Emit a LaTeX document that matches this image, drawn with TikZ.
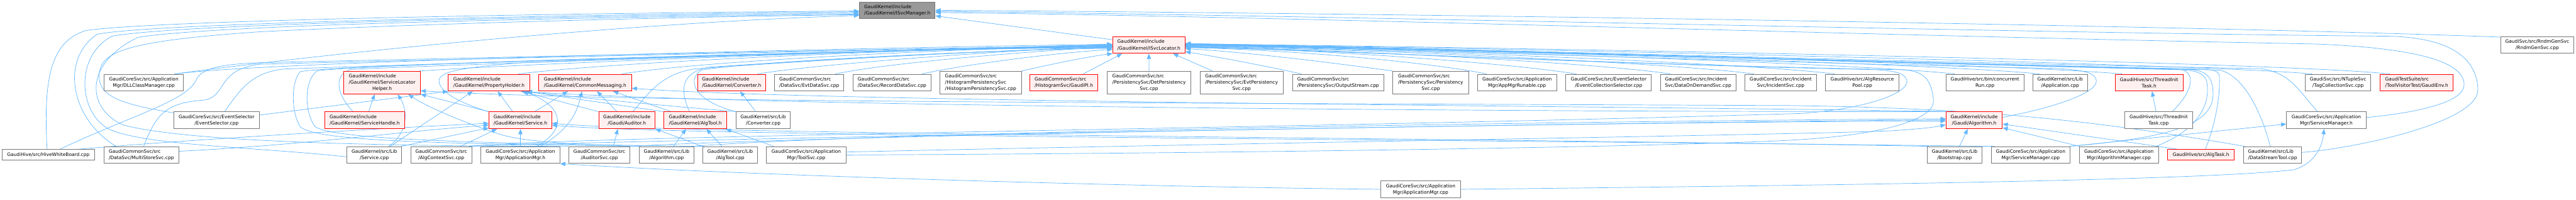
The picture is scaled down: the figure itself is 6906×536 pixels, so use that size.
\documentclass[tikz,border=0pt]{standalone}
\usepackage{fontspec}
\setmainfont{DejaVu Sans}
\usetikzlibrary{arrows.meta}
\definecolor{edgec}{HTML}{63B8FF}
\definecolor{redfill}{HTML}{FFF0F0}
\definecolor{boxline}{HTML}{777777}
\definecolor{rootfill}{HTML}{999999}
\newcommand\fsz{\fontsize{12.6}{17}\selectfont}
\newcommand\tlc[3]{\begin{tabular}{@{}l@{}}#1\\#2\\\multicolumn{1}{@{}c@{}}{#3}\end{tabular}}
\newcommand\bx[8]{\node[#2,align=#3,minimum width={(#6-(#5))*1pt},minimum height={(#8-(#7))*1pt}] (#1) at ({(#5+#6)/2},{(#7+#8)/2}) {#4};}
\pgfdeclarelayer{bg}
\pgfsetlayers{bg,main}
\tikzset{
  box/.style={draw=boxline, fill=white, line width=1.5pt, inner sep=0pt, font=\fsz, text=black},
  rbox/.style={box, draw=red, fill=redfill},
  gbox/.style={box, fill=rootfill},
  edge/.style={draw=edgec, line width=1.2pt, -{Triangle[length=14pt,width=11pt]}},
}
\begin{document}
\begin{tikzpicture}[x=1pt,y=-1pt]
\useasboundingbox (0,0) rectangle (6906,536);
% row 0 / 1
\bx{mgr}{gbox}{left}{GaudiKernel/include\\/GaudiKernel/ISvcManager.h}{2304}{2507}{5}{50}
\bx{loc}{rbox}{left}{GaudiKernel/include\\/GaudiKernel/ISvcLocator.h}{2983}{3177}{98}{143}
\bx{rndm}{box}{center}{GaudiSvc/src/RndmGenSvc\\/RndmGenSvc.cpp}{6704}{6900}{98}{143}
% row 2
\bx{dll}{box}{center}{GaudiCoreSvc/src/Application\\Mgr/DLLClassManager.cpp}{279}{492}{199}{244}
\bx{slh}{rbox}{left}{\tlc{GaudiKernel/include}{/GaudiKernel/ServiceLocator}{Helper.h}}{922}{1127}{191}{252}
\bx{ph}{rbox}{left}{GaudiKernel/include\\/GaudiKernel/PropertyHolder.h}{1202}{1420}{199}{244}
\bx{cm}{rbox}{left}{GaudiKernel/include\\/GaudiKernel/CommonMessaging.h}{1444}{1693}{199}{244}
\bx{convh}{rbox}{left}{GaudiKernel/include\\/GaudiKernel/Converter.h}{1870}{2053}{199}{244}
\bx{evtdata}{box}{left}{GaudiCommonSvc/src\\/DataSvc/EvtDataSvc.cpp}{2077}{2262}{199}{244}
\bx{recdata}{box}{left}{GaudiCommonSvc/src\\/DataSvc/RecordDataSvc.cpp}{2287}{2496}{199}{244}
\bx{histpers}{box}{left}{GaudiCommonSvc/src\\/HistogramPersistencySvc\\/HistogramPersistencySvc.cpp}{2520}{2738}{191}{252}
\bx{gaudipi}{rbox}{left}{GaudiCommonSvc/src\\/HistogramSvc/GaudiPI.h}{2761}{2943}{199}{244}
\bx{detpers}{box}{left}{\tlc{GaudiCommonSvc/src}{/PersistencySvc/DetPersistency}{Svc.cpp}}{2968}{3193}{191}{252}
\bx{evtpers}{box}{left}{\tlc{GaudiCommonSvc/src}{/PersistencySvc/EvtPersistency}{Svc.cpp}}{3217}{3440}{191}{252}
\bx{outstream}{box}{left}{GaudiCommonSvc/src\\/PersistencySvc/OutputStream.cpp}{3465}{3710}{199}{244}
\bx{pers}{box}{left}{\tlc{GaudiCommonSvc/src}{/PersistencySvc/Persistency}{Svc.cpp}}{3734}{3937}{191}{252}
\bx{apprun}{box}{center}{GaudiCoreSvc/src/Application\\Mgr/AppMgrRunable.cpp}{3961}{4173}{199}{244}
\bx{evcol}{box}{center}{GaudiCoreSvc/src/EventSelector\\/EventCollectionSelector.cpp}{4198}{4427}{199}{244}
\bx{dod}{box}{left}{GaudiCoreSvc/src/Incident\\Svc/DataOnDemandSvc.cpp}{4451}{4654}{199}{244}
\bx{incid}{box}{center}{GaudiCoreSvc/src/Incident\\Svc/IncidentSvc.cpp}{4678}{4870}{199}{244}
\bx{algres}{box}{center}{GaudiHive/src/AlgResource\\Pool.cpp}{4894}{5091}{199}{244}
\bx{concrun}{box}{center}{GaudiHive/src/bin/concurrent\\Run.cpp}{5217}{5426}{199}{244}
\bx{appl}{box}{center}{GaudiKernel/src/Lib\\/Application.cpp}{5450}{5596}{199}{244}
\bx{thrh}{rbox}{center}{GaudiHive/src/ThreadInit\\Task.h}{5670}{5853}{199}{244}
\bx{tagcol}{box}{center}{GaudiSvc/src/NTupleSvc\\/TagCollectionSvc.cpp}{6180}{6356}{199}{244}
\bx{genv}{rbox}{left}{GaudiTestSuite/src\\/ToolVisitorTest/GaudiEnv.h}{6381}{6577}{199}{244}
% row 3
\bx{evsel}{box}{center}{GaudiCoreSvc/src/EventSelector\\/EventSelector.cpp}{466}{695}{300}{345}
\bx{shdl}{rbox}{left}{GaudiKernel/include\\/GaudiKernel/ServiceHandle.h}{870}{1085}{300}{345}
\bx{svch}{rbox}{left}{GaudiKernel/include\\/GaudiKernel/Service.h}{1311}{1479}{300}{345}
\bx{audh}{rbox}{center}{GaudiKernel/include\\/Gaudi/Auditor.h}{1605}{1756}{300}{345}
\bx{algtoolh}{rbox}{left}{GaudiKernel/include\\/GaudiKernel/AlgTool.h}{1780}{1948}{300}{345}
\bx{convcpp}{box}{center}{GaudiKernel/src/Lib\\/Converter.cpp}{1973}{2119}{300}{345}
\bx{algh}{rbox}{center}{GaudiKernel/include\\/Gaudi/Algorithm.h}{5217}{5368}{300}{345}
\bx{thrcpp}{box}{center}{GaudiHive/src/ThreadInit\\Task.cpp}{5696}{5878}{300}{345}
\bx{smh}{box}{center}{GaudiCoreSvc/src/Application\\Mgr/ServiceManager.h}{6130}{6343}{300}{345}
% row 4
\bx{hive}{box}{center}{GaudiHive/src/HiveWhiteBoard.cpp}{5}{254}{401}{429}
\bx{mss}{box}{left}{GaudiCommonSvc/src\\/DataSvc/MultiStoreSvc.cpp}{279}{479}{393}{438}
\bx{svccpp}{box}{center}{GaudiKernel/src/Lib\\/Service.cpp}{930}{1077}{393}{438}
\bx{algctx}{box}{center}{GaudiCommonSvc/src\\/AlgContextSvc.cpp}{1101}{1265}{393}{438}
\bx{amh}{box}{center}{GaudiCoreSvc/src/Application\\Mgr/ApplicationMgr.h}{1289}{1501}{393}{438}
\bx{audsvc}{box}{center}{GaudiCommonSvc/src\\/AuditorSvc.cpp}{1525}{1689}{393}{438}
\bx{algcpp}{box}{center}{GaudiKernel/src/Lib\\/Algorithm.cpp}{1714}{1860}{393}{438}
\bx{algtoolcpp}{box}{center}{GaudiKernel/src/Lib\\/AlgTool.cpp}{1884}{2031}{393}{438}
\bx{toolsvc}{box}{center}{GaudiCoreSvc/src/Application\\Mgr/ToolSvc.cpp}{2055}{2268}{393}{438}
\bx{boot}{box}{center}{GaudiKernel/src/Lib\\/Bootstrap.cpp}{5167}{5313}{393}{438}
\bx{smcpp}{box}{center}{GaudiCoreSvc/src/Application\\Mgr/ServiceManager.cpp}{5338}{5550}{393}{438}
\bx{algmgr}{box}{center}{GaudiCoreSvc/src/Application\\Mgr/AlgorithmManager.cpp}{5574}{5787}{393}{438}
\bx{algtask}{rbox}{center}{GaudiHive/src/AlgTask.h}{5811}{5990}{401}{429}
\bx{dst}{box}{left}{GaudiKernel/src/Lib\\/DataStreamTool.cpp}{6015}{6170}{393}{438}
% row 5
\bx{amcpp}{box}{center}{GaudiCoreSvc/src/Application\\Mgr/ApplicationMgr.cpp}{3702}{3915}{485}{530}

\begin{pgfonlayer}{bg}
\fill[white] (0,0) rectangle (6906,536);
% ---- edges to ISvcManager.h
\draw[edge] ([yshift=14pt]loc.west) -- ([yshift=-15pt]mgr.east);
\draw[edge] ([xshift=122pt]hive.north west) .. controls (115,200) and (140,110) .. (230,82) .. controls (400,55) and (1500,35) .. ([yshift=-2pt]mgr.west);
\draw[edge] ([xshift=33pt]mss.north west) .. controls (190,320) and (160,160) .. (260,92) .. controls (400,62) and (1500,40) .. ([yshift=-4pt]mgr.west);
\draw[edge] ([yshift=-5pt]svccpp.west) .. controls (700,395) and (380,390) .. (290,345) .. controls (210,300) and (200,150) .. (300,97) .. controls (500,62) and (1500,44) .. ([yshift=-7pt]mgr.west);
\draw[edge] (audsvc.north west) .. controls (1000,392) and (500,380) .. (330,335) .. controls (230,290) and (225,170) .. (370,100) .. controls (600,64) and (1600,46) .. ([yshift=-10pt]mgr.west);
\draw[edge] ([yshift=20pt]evsel.west) .. controls (330,280) and (262,260) .. (266,200) .. controls (270,140) and (330,110) .. (700,85) .. controls (1200,60) and (1900,44) .. ([yshift=-12pt]mgr.west);
\draw[edge] ([xshift=-25pt]dll.north east) .. controls (900,140) and (1700,60) .. ([yshift=-14pt]mgr.west);
\draw[edge] ([yshift=7.5pt]smh.east) .. controls (6500,300) and (6608,270) .. (6606,226) .. controls (6604,170) and (6500,130) .. (6210,118) .. controls (5000,95) and (3500,45) .. ([yshift=-6pt]mgr.east);
\draw[edge] ([yshift=7pt]dst.east) .. controls (6300,400) and (6645,330) .. (6643,240) .. controls (6640,150) and (6560,100) .. (6400,97) .. controls (5500,90) and (3500,40) .. ([yshift=-3pt]mgr.east);
\draw[edge] ([yshift=21pt]rndm.west) .. controls (6000,72) and (4000,38) .. (mgr.east);
% ---- edges to ISvcLocator.h from the left
\draw[edge] ([xshift=-22pt]dll.north east) .. controls (700,165) and (2300,128) .. ([yshift=2pt]loc.west);
\draw[edge] ([xshift=137pt]evsel.north west) .. controls (650,230) and (680,195) .. (760,185) .. controls (1500,160) and (2600,130) .. ([yshift=-1pt]loc.west);
\draw[edge] ([xshift=156pt]hive.north west) .. controls (350,310) and (505,270) .. (527,212) .. controls (545,180) and (600,172) .. (700,168) .. controls (1500,150) and (2500,128) .. ([yshift=-2pt]loc.west);
\draw[edge] ([xshift=107pt]mss.north west) .. controls (420,300) and (450,275) .. (550,268) .. controls (610,255) and (580,185) .. (700,172) .. controls (1500,152) and (2500,130) .. ([yshift=-3pt]loc.west);
\draw[edge] ([xshift=77pt]shdl.north west) .. controls (900,250) and (895,200) .. (940,186) .. controls (1300,170) and (2500,130) .. ([yshift=-4pt]loc.west);
\draw[edge] ([xshift=5pt]algcpp.north west) .. controls (1200,385) and (850,380) .. (805,340) .. controls (780,300) and (780,220) .. (805,192) .. controls (900,172) and (2500,130) .. ([yshift=-5pt]loc.west);
\draw[edge] ([xshift=5pt]algtoolcpp.north west) .. controls (1300,385) and (900,375) .. (845,340) .. controls (815,300) and (815,215) .. (850,190) .. controls (950,172) and (2500,130) .. ([yshift=-6pt]loc.west);
\draw[edge] ([xshift=-2pt]slh.north east) .. controls (1500,165) and (2600,128) .. ([yshift=1pt]loc.west);
\draw[edge] ([xshift=-31pt]ph.north east) .. controls (1700,160) and (2600,128) .. (loc.west);
\draw[edge] ([xshift=-1pt]svch.north west) .. controls (1230,275) and (1175,245) .. (1177,215) .. controls (1180,190) and (1250,180) .. (1400,168) .. controls (2000,145) and (2600,130) .. ([yshift=-7pt]loc.west);
\draw[edge] ([xshift=-27pt]cm.north east) .. controls (1900,160) and (2650,128) .. ([yshift=-1pt]loc.west);
\draw[edge] ([xshift=92pt]audh.north west) .. controls (1740,250) and (1770,200) .. (1860,185) .. controls (2200,160) and (2700,132) .. ([yshift=-8pt]loc.west);
\draw[edge] ([xshift=69pt]algtoolh.north west) .. controls (1822,240) and (1825,195) .. (1900,180) .. controls (2200,160) and (2700,132) .. ([yshift=-8pt]loc.west);
\draw[edge] (convcpp.north west) .. controls (1860,270) and (1840,215) .. (1880,188) .. controls (2000,165) and (2700,132) .. ([yshift=-9pt]loc.west);
\draw[edge] ([xshift=-23pt]convh.north east) .. controls (2200,170) and (2750,132) .. ([yshift=-3pt]loc.west);
\draw[edge] ([xshift=163pt]evtdata.north west) .. controls (2400,165) and (2800,135) .. ([yshift=-5pt]loc.west);
\draw[edge] ([xshift=185pt]recdata.north west) .. controls (2600,170) and (2850,140) .. ([yshift=-12pt]loc.west);
\draw[edge] (histpers.north east) .. controls (2850,165) and (2930,150) .. (loc.south west);
\draw[edge] ([xshift=-40pt]gaudipi.north east) -- ([xshift=26pt]loc.south west);
\draw[edge] (detpers.north) -- (loc.south);
\draw[edge] ([xshift=34pt]evtpers.north west) -- ([xshift=-33pt]loc.south east);
% ---- edges to ISvcLocator.h from the right
\draw[edge] ([xshift=25pt]outstream.north west) .. controls (3400,178) and (3260,152) .. ([yshift=-18pt]loc.east);
\draw[edge] (pers.north west) .. controls (3600,172) and (3350,140) .. ([yshift=-10pt]loc.east);
\draw[edge] ([xshift=25pt]apprun.north west) .. controls (3850,170) and (3500,135) .. ([yshift=-7pt]loc.east);
\draw[edge] ([xshift=29pt]evcol.north west) .. controls (4050,170) and (3550,132) .. ([yshift=-6pt]loc.east);
\draw[edge] ([xshift=28pt]dod.north west) .. controls (4300,170) and (3600,132) .. ([yshift=-5pt]loc.east);
\draw[edge] ([xshift=25pt]incid.north west) .. controls (4500,170) and (3650,130) .. ([yshift=-4pt]loc.east);
\draw[edge] ([xshift=25pt]algres.north west) .. controls (4700,170) and (3700,130) .. ([yshift=-3pt]loc.east);
\draw[edge] ([xshift=24pt]concrun.north west) .. controls (5000,170) and (3700,128) .. ([yshift=-2pt]loc.east);
\draw[edge] ([xshift=18pt]appl.north west) .. controls (5200,170) and (3750,128) .. ([yshift=-1pt]loc.east);
\draw[edge] ([xshift=20pt]thrh.north west) .. controls (5400,172) and (3800,128) .. (loc.east);
\draw[edge] ([xshift=19pt]tagcol.north west) .. controls (5900,170) and (3900,126) .. ([yshift=2pt]loc.east);
\draw[edge] ([xshift=26pt]genv.north west) .. controls (6100,165) and (4000,126) .. ([yshift=3pt]loc.east);
\draw[edge] ([xshift=128pt]thrcpp.north west) .. controls (5870,255) and (5892,200) .. (5850,187) .. controls (5200,172) and (3800,130) .. ([yshift=1pt]loc.east);
\draw[edge] ([xshift=-8pt]algmgr.north east) .. controls (5890,350) and (5930,280) .. (5915,215) .. controls (5905,192) and (5880,188) .. (5830,186) .. controls (5200,170) and (3800,130) .. ([yshift=1pt]loc.east);
\draw[edge] ([xshift=-2pt]smcpp.north east) .. controls (5800,370) and (5935,340) .. (5933,250) .. controls (5932,205) and (5915,190) .. (5870,186) .. controls (5200,170) and (3800,130) .. ([yshift=2pt]loc.east);
\draw[edge] ([xshift=102pt]algtask.north west) .. controls (5940,330) and (5952,260) .. (5950,205) .. controls (5949,190) and (5935,186) .. (5890,185) .. controls (5200,170) and (3800,130) .. ([yshift=2pt]loc.east);
\draw[edge] ([xshift=72pt]dst.north west) .. controls (6060,290) and (6010,200) .. (5950,188) .. controls (5200,170) and (3800,128) .. ([yshift=3pt]loc.east);
\draw[edge] ([xshift=84pt]smh.north west) .. controls (6160,240) and (6140,195) .. (6060,184) .. controls (5200,168) and (3800,128) .. ([yshift=4pt]loc.east);
\draw[edge] ([yshift=8pt]algh.east) .. controls (5500,290) and (5625,250) .. (5620,215) .. controls (5615,195) and (5590,187) .. (5500,183) .. controls (4800,170) and (3700,130) .. (loc.east);
\draw[edge] ([xshift=-10pt]algctx.north east) .. controls (1600,362) and (3500,345) .. (4830,304) .. controls (5000,292) and (5120,250) .. (5112,215) .. controls (5105,195) and (5080,188) .. (5000,186) .. controls (4300,172) and (3500,132) .. ([yshift=-5pt]loc.east);
\draw[edge] (toolsvc.east) .. controls (3500,410) and (4600,390) .. (4830,374) .. controls (5050,360) and (5190,320) .. (5183,267) .. controls (5178,215) and (5160,190) .. (5100,187) .. controls (4300,172) and (3500,132) .. ([yshift=-6pt]loc.east);
% ---- other edges
\draw[edge] ([xshift=119pt]shdl.north west) -- ([xshift=83pt]slh.south west);
\draw[edge] ([xshift=113pt]svccpp.north west) .. controls (1100,350) and (1090,290) .. ([xshift=145pt]slh.south west);
\draw[edge] ([xshift=117pt]svccpp.north west) -- ([xshift=66pt]ph.south west);
\draw[edge] ([xshift=-2pt]svccpp.north east) -- ([yshift=3pt]svch.south west);
\draw[edge] (svch.north west) -- (slh.south east);
\draw[edge] ([xshift=64pt]svch.north west) -- ([xshift=133pt]ph.south west);
\draw[edge] ([xshift=123pt]svch.north west) -- ([xshift=79pt]cm.south west);
\draw[edge] ([yshift=14pt]evsel.east) -- (ph.south west);
\draw[edge] (audh.north west) -- ([xshift=-22pt]ph.south east);
\draw[edge] ([xshift=50pt]audh.north west) -- ([xshift=157pt]cm.south west);
\draw[edge] (algtoolh.north west) -- ([xshift=-14pt]ph.south east);
\draw[edge] ([xshift=20pt]algtoolh.north west) -- ([xshift=-50pt]cm.south east);
\draw[edge] ([xshift=54pt]convcpp.north west) -- ([xshift=115pt]convh.south west);
\draw[edge] ([xshift=1pt]convcpp.north west) .. controls (1800,285) and (1550,262) .. ([xshift=-8pt]ph.south east);
\draw[edge] ([xshift=107pt]amh.north west) -- ([xshift=85pt]svch.south west);
\draw[edge] ([xshift=151pt]amh.north west) .. controls (1530,340) and (1500,280) .. ([xshift=-18pt]ph.south east);
\draw[edge] ([xshift=160pt]amh.north west) .. controls (1540,340) and (1550,285) .. ([xshift=117pt]cm.south west);
\draw[edge] ([xshift=134pt]algctx.north west) -- ([xshift=22pt]svch.south west);
\draw[edge] ([xshift=120pt]audsvc.north west) -- ([xshift=52pt]audh.south west);
\draw[edge] ([xshift=92pt]algcpp.north west) -- ([xshift=60pt]algtoolh.south west);
\draw[edge] ([xshift=52pt]algtoolcpp.north west) -- ([xshift=-55pt]algtoolh.south east);
\draw[edge] ([xshift=20pt]toolsvc.north west) -- ([xshift=-3pt]algtoolh.south east);
\draw[edge] (algtoolcpp.north west) -- (audh.south east);
\draw[edge] ([xshift=-1pt]algcpp.north west) .. controls (1600,388) and (1420,385) .. (1340,360) .. controls (1250,330) and (1150,290) .. ([xshift=-33pt]slh.south east);
\draw[edge] ([xshift=203pt]hive.north west) .. controls (500,375) and (1000,345) .. ([yshift=-8pt]svch.west);
\draw[edge] ([yshift=10pt]mss.east) .. controls (800,390) and (1100,350) .. ([yshift=-13pt]svch.west);
\draw[edge] ([xshift=87pt]boot.north west) -- ([xshift=59pt]algh.south west);
\draw[edge] ([xshift=-5pt]algcpp.north east) .. controls (2400,350) and (4500,322) .. ([yshift=4pt]algh.west);
\draw[edge] ([xshift=-5pt]algctx.north east) .. controls (1900,370) and (4500,325) .. ([yshift=1pt]algh.west);
\draw[edge] ([xshift=-5pt]audsvc.north east) .. controls (2300,360) and (4500,325) .. ([yshift=-2pt]algh.west);
\draw[edge] ([yshift=8pt]toolsvc.east) .. controls (3500,380) and (4900,360) .. (5080,350) .. controls (5150,345) and (5180,342) .. ([yshift=-12pt]algh.west);
\draw[edge] ([xshift=2pt]algmgr.north west) -- ([yshift=-20pt]algh.east);
\draw[edge] ([xshift=30pt]algtask.north west) -- ([yshift=-10pt]algh.east);
\draw[edge] ([xshift=85pt]thrcpp.north west) -- ([xshift=100pt]thrh.south west);
\draw[edge] ([xshift=-2pt]smcpp.north east) -- ([yshift=-10pt]smh.west);
\draw[edge] (amcpp.east) .. controls (4800,498) and (5900,485) .. (6150,455) .. controls (6200,440) and (6225,400) .. ([xshift=-6pt]smh.south);
\draw[edge] (amcpp.west) .. controls (3000,500) and (2000,470) .. (amh.south east);
\draw[edge] ([xshift=5pt]boot.north west) .. controls (4000,370) and (1800,360) .. ([yshift=-8pt]svch.east);
\draw[edge] ([xshift=10pt]smcpp.north west) .. controls (4000,375) and (1800,365) .. ([yshift=-13pt]svch.east);
\draw[edge] ([xshift=15pt]algh.north west) .. controls (4500,285) and (2200,275) .. ([yshift=-15pt]cm.east);
\draw[edge] ([xshift=8pt]algh.north west) .. controls (4000,300) and (2000,285) .. ([xshift=-25pt]ph.south east);
\draw[edge] ([xshift=3pt]dst.north west) .. controls (5600,320) and (5300,290) .. (4800,283) .. controls (3000,275) and (1700,275) .. ([yshift=-22pt]slh.east);
\end{pgfonlayer}
\end{tikzpicture}
\end{document}
